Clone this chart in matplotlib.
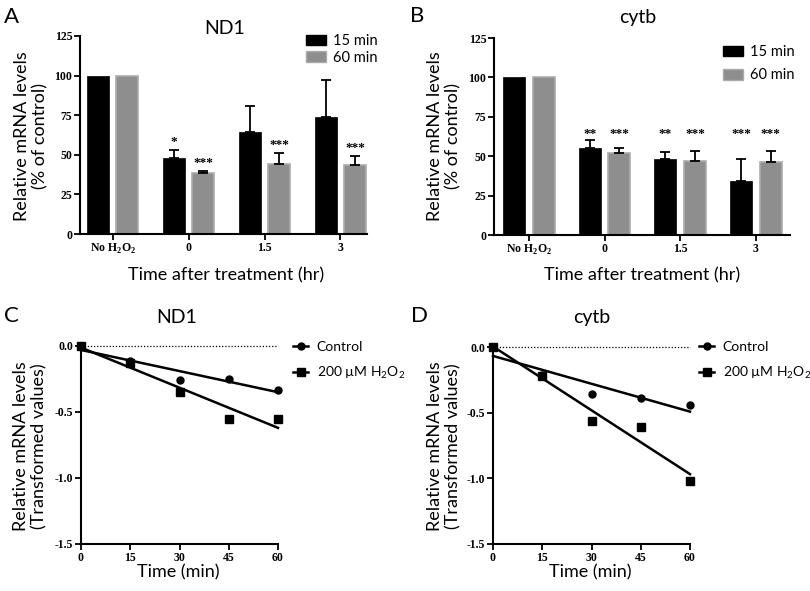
import numpy as np
import matplotlib
matplotlib.use('Agg')
import matplotlib.pyplot as plt
from matplotlib.patches import Patch
from matplotlib.lines import Line2D
from matplotlib.font_manager import FontProperties

plt.rcParams['font.family'] = ['Lato', 'DejaVu Sans']
plt.rcParams['mathtext.fontset'] = 'custom'
plt.rcParams['mathtext.rm'] = 'Lato'
plt.rcParams['mathtext.bf'] = 'Liberation Serif:bold'

# ---- data ----
groups = [r'No H$_\mathbf{2}$O$_\mathbf{2}$', '0', '1.5', '3']

nd1_15 = [100, 48, 64.5, 74]
nd1_15_err = [0, 5, 16.5, 23.5]
nd1_60 = [100, 38.5, 44, 43.5]
nd1_60_err = [0, 1.5, 7, 6]
nd1_15_sig = ['', '*', '', '']
nd1_60_sig = ['', '***', '***', '***']

cytb_15 = [100, 55, 48.5, 34.5]
cytb_15_err = [0, 5, 4, 14]
cytb_60 = [100, 52, 47, 46.5]
cytb_60_err = [0, 3.5, 6.5, 7]
cytb_15_sig = ['', '**', '**', '***']
cytb_60_sig = ['', '***', '***', '***']

time = [0, 15, 30, 45, 60]
nd1_ctrl = [0, -0.11, -0.26, -0.25, -0.33]
nd1_h2o2 = [0, -0.13, -0.35, -0.55, -0.55]
cytb_ctrl = [0, -0.21, -0.36, -0.39, -0.44]
cytb_h2o2 = [0, -0.22, -0.56, -0.61, -1.02]

W, H = 810, 591
fig = plt.figure(figsize=(8.1, 5.91), dpi=100)


def box(l, t, r, b):
    # pixel box -> figure fraction
    return [l / W, 1 - b / H, (r - l) / W, (b - t) / H]


def ftext(x, y, s, **kw):
    fig.text(x / W, 1 - y / H, s, **kw)


tickfont = FontProperties(family='Liberation Serif', weight='bold', size=8.5)
BLACK = '#000000'
GREY = '#8e8e8e'


def style(ax):
    for s in ['top', 'right']:
        ax.spines[s].set_visible(False)
    for s in ['left', 'bottom']:
        ax.spines[s].set_linewidth(1.5)
    ax.tick_params(direction='out', length=4, width=1.3, pad=1.5)
    for lab in ax.get_xticklabels() + ax.get_yticklabels():
        lab.set_fontproperties(tickfont)


def bar_panel(rect, v15, e15, v60, e60, s15, s60, xlim, star_level=None):
    ax = fig.add_axes(rect)
    x = np.arange(len(groups))
    off, bw = 0.195, 0.29
    ax.bar(x - off, v15, bw, color=BLACK, edgecolor=BLACK, linewidth=0.5, label='15 min')
    ax.bar(x + off, v60, bw, color=GREY, edgecolor='#ababab', linewidth=1.2, label='60 min')
    for xs, v, e in [(x - off, v15, e15), (x + off, v60, e60)]:
        v = np.array(v); e = np.array(e)
        m = e > 0
        ax.errorbar(xs[m], v[m], yerr=[np.zeros(m.sum()), e[m]], fmt='none',
                    ecolor='black', elinewidth=1.3, capsize=3.6, capthick=1.3)
    for xs, v, e, sig in [(x - off, v15, e15, s15), (x + off, v60, e60, s60)]:
        for xi, vi, ei, si in zip(xs, v, e, sig):
            if si:
                yy = star_level if star_level is not None else vi + ei + 5
                ax.text(xi, yy, si, ha='center', va='center',
                        family='Liberation Serif', weight='bold', fontsize=9.5)
    ax.set_xlim(*xlim)
    ax.set_ylim(0, 125)
    ax.set_yticks([0, 25, 50, 75, 100, 125])
    ax.set_xticks(x)
    ax.set_xticklabels(groups)
    style(ax)
    return ax


axA = bar_panel(box(80, 36, 367, 234), nd1_15, nd1_15_err, nd1_60, nd1_60_err,
                nd1_15_sig, nd1_60_sig, (-0.43, 3.35))
axB = bar_panel(box(494, 38, 790, 235), cytb_15, cytb_15_err, cytb_60, cytb_60_err,
                cytb_15_sig, cytb_60_sig, (-0.46, 3.45),
                star_level=max(np.array(cytb_15[1:]) + np.array(cytb_15_err[1:])) + 4)

handles = [Patch(facecolor=BLACK, edgecolor=BLACK), Patch(facecolor=GREY, edgecolor='#ababab')]
leg_kw = dict(loc='upper left', bbox_transform=fig.transFigure, frameon=False, fontsize=10.5,
              handlelength=1.35, handleheight=0.75, handletextpad=0.5, borderpad=0,
              borderaxespad=0)
axA.legend(handles, ['15 min', '60 min'], bbox_to_anchor=(306 / W, 1 - 34 / H),
           labelspacing=0.2, **leg_kw)
axB.legend(handles, ['15 min', '60 min'], bbox_to_anchor=(723 / W, 1 - 45 / H),
           labelspacing=0.65, **leg_kw)


def line_panel(rect, ctrl, h2o2):
    ax = fig.add_axes(rect)
    t = np.array(time, dtype=float)
    ax.plot([0, 60], [0, 0], ls=(0, (1, 1.5)), color='black', lw=0.9, clip_on=False)
    for y, mk, ms in [(ctrl, 'o', 5), (h2o2, 's', 5.5)]:
        k, b = np.polyfit(t, y, 1)
        ax.plot([0, 60], [b, b + 60 * k], color='black', lw=1.8, clip_on=False)
        ax.plot(t, y, mk, color='black', ms=ms, clip_on=False, zorder=5)
    ax.set_xlim(0, 60)
    ax.set_ylim(-1.5, 0)
    ax.set_xticks(time)
    ax.set_yticks([0.0, -0.5, -1.0, -1.5])
    ax.set_yticklabels(['0.0', '-0.5', '-1.0', '-1.5'])
    style(ax)
    ax.spines['left'].set_bounds(-1.5, 0.02)
    return ax


axC = line_panel(box(81, 346, 278, 544), nd1_ctrl, nd1_h2o2)
axD = line_panel(box(493, 347, 690, 544), cytb_ctrl, cytb_h2o2)

lh = [Line2D([], [], color='black', lw=1.8, marker='o', ms=5),
      Line2D([], [], color='black', lw=1.8, marker='s', ms=5.5)]
lab = ['Control', r'200 µM H$_\mathrm{2}$O$_\mathrm{2}$']
lkw = dict(loc='upper left', bbox_transform=fig.transFigure, frameon=False, fontsize=10,
           handlelength=1.1, handletextpad=0.6, labelspacing=0.85, borderpad=0,
           borderaxespad=0)
axC.legend(lh, lab, bbox_to_anchor=(293 / W, 1 - 341 / H), **lkw)
axD.legend(lh, lab, bbox_to_anchor=(699 / W, 1 - 341 / H), **lkw)

# titles, labels, panel letters
ftext(225, 28, 'ND1', ha='center', va='center', fontsize=14)
ftext(638, 18, 'cytb', ha='center', va='center', fontsize=14)
ftext(177, 318, 'ND1', ha='center', va='center', fontsize=14)
ftext(592, 317, 'cytb', ha='center', va='center', fontsize=14)

for x, y, s in [(4, 17, 'A'), (410, 16, 'B'), (4, 316, 'C'), (411, 316, 'D')]:
    ftext(x, y, s, ha='left', va='center', fontsize=16)

ylab1 = 'Relative mRNA levels\n(% of control)'
ylab2 = 'Relative mRNA levels\n(Transformed values)'
ftext(31, 136, ylab1, ha='center', va='center', rotation=90, fontsize=13, linespacing=1.2)
ftext(444, 136, ylab1, ha='center', va='center', rotation=90, fontsize=13, linespacing=1.2)
ftext(30, 446, ylab2, ha='center', va='center', rotation=90, fontsize=13, linespacing=1.2)
ftext(444, 446, ylab2, ha='center', va='center', rotation=90, fontsize=13, linespacing=1.2)

ftext(226, 275, 'Time after treatment (hr)', ha='center', va='center', fontsize=13)
ftext(642, 275, 'Time after treatment (hr)', ha='center', va='center', fontsize=13)
ftext(178, 572, 'Time (min)', ha='center', va='center', fontsize=13)
ftext(590, 572, 'Time (min)', ha='center', va='center', fontsize=13)

fig.savefig('out.png', dpi=100)
